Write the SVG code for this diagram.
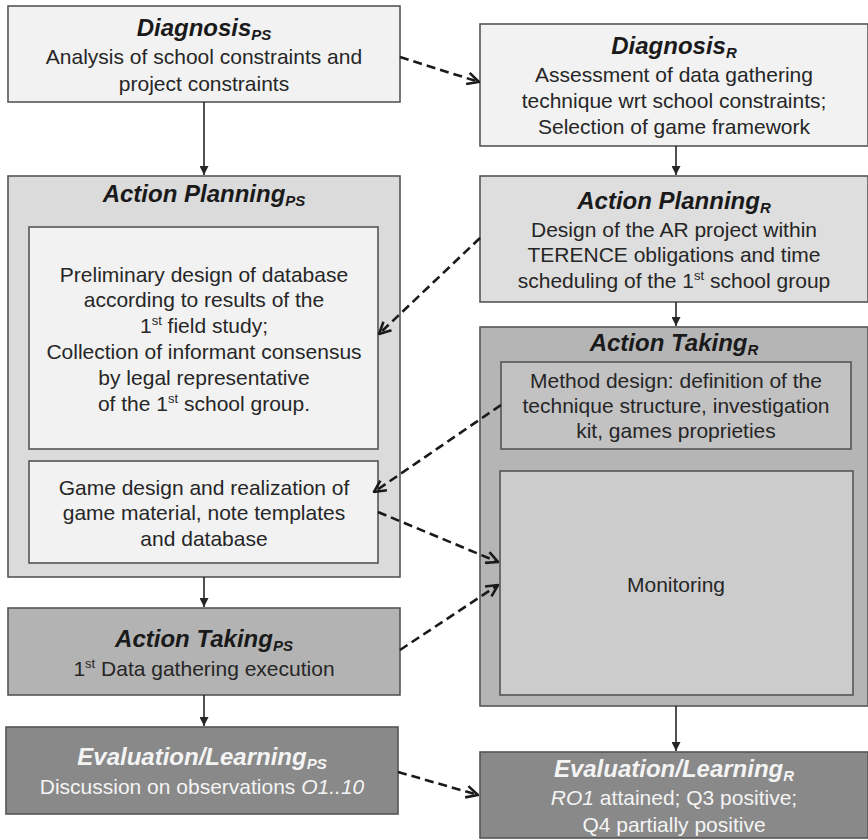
<svg xmlns="http://www.w3.org/2000/svg" width="868" height="840" viewBox="0 0 868 840">
<style>
  .b { stroke: #555555; stroke-width: 1.6; }
  text { font-family: "Liberation Sans", Arial, sans-serif; font-size: 21px; fill: #262626; text-anchor: middle; }
  .t { font-weight: bold; font-style: italic; font-size: 24px; fill: #1a1a1a; }
  .w { fill: #f4f4f4; }
  .sub { font-size: 15px; }
  .sup { font-size: 13px; }
  .solid { stroke: #262626; stroke-width: 1.6; fill: none; }
  .dash { stroke: #1a1a1a; stroke-width: 2.6; fill: none; stroke-dasharray: 9 5; }
</style>
<defs>
  <marker id="sa" viewBox="0 0 10 10" refX="10" refY="5" markerWidth="9" markerHeight="9" markerUnits="userSpaceOnUse" orient="auto">
    <path d="M0,0 L10,5 L0,10 z" fill="#262626"/>
  </marker>
  <marker id="da" viewBox="0 0 12 12" refX="11" refY="6" markerWidth="14" markerHeight="14" markerUnits="userSpaceOnUse" orient="auto">
    <path d="M1,1 L11,6 L1,11" fill="none" stroke="#1a1a1a" stroke-width="2.2"/>
  </marker>
</defs>
<rect width="868" height="840" fill="#ffffff"/>

<g id="diagnosis-ps">
  <rect class="b" x="8" y="6" width="392" height="96" fill="#f2f2f2"/>
  <text x="204" y="36" class="t">Diagnosis<tspan class="sub" dy="4">PS</tspan></text>
  <text x="204" y="64">Analysis of school constraints and</text>
  <text x="204" y="91">project constraints</text>
</g>

<g id="diagnosis-r">
  <rect class="b" x="480" y="24" width="388" height="122" fill="#f2f2f2"/>
  <text x="674" y="54" class="t">Diagnosis<tspan class="sub" dy="4">R</tspan></text>
  <text x="674" y="82">Assessment of data gathering</text>
  <text x="674" y="108">technique wrt school constraints;</text>
  <text x="674" y="134">Selection of game framework</text>
</g>

<g id="action-planning-ps">
  <rect class="b" x="8" y="176" width="392" height="401" fill="#dbdbdb"/>
  <text x="204" y="202" class="t">Action Planning<tspan class="sub" dy="4">PS</tspan></text>
</g>

<g id="ap-ps-preliminary">
  <rect class="b" x="29" y="227" width="349" height="222" fill="#f2f2f2"/>
  <text x="204" y="282">Preliminary design of database</text>
  <text x="204" y="307">according to results of the</text>
  <text x="204" y="333">1<tspan class="sup" dy="-8">st</tspan><tspan dy="8"> field study;</tspan></text>
  <text x="204" y="359">Collection of informant consensus</text>
  <text x="204" y="385">by legal representative</text>
  <text x="204" y="411">of the 1<tspan class="sup" dy="-8">st</tspan><tspan dy="8"> school group.</tspan></text>
</g>

<g id="ap-ps-game-design">
  <rect class="b" x="29" y="461" width="349" height="102" fill="#f2f2f2"/>
  <text x="204" y="495">Game design and realization of</text>
  <text x="204" y="520">game material, note templates</text>
  <text x="204" y="546">and database</text>
</g>

<g id="action-planning-r">
  <rect class="b" x="480" y="176" width="388" height="126" fill="#dedede"/>
  <text x="674" y="209" class="t">Action Planning<tspan class="sub" dy="4">R</tspan></text>
  <text x="674" y="237">Design of the AR project within</text>
  <text x="674" y="262">TERENCE obligations and time</text>
  <text x="674" y="288">scheduling of the 1<tspan class="sup" dy="-8">st</tspan><tspan dy="8"> school group</tspan></text>
</g>

<g id="action-taking-r">
  <rect class="b" x="480" y="327" width="388" height="379" fill="#b5b5b5"/>
  <text x="674" y="351" class="t">Action Taking<tspan class="sub" dy="4">R</tspan></text>
</g>

<g id="at-r-method">
  <rect class="b" x="501" y="362" width="350" height="87" fill="#c2c2c2"/>
  <text x="676" y="388">Method design: definition of the</text>
  <text x="676" y="413">technique structure, investigation</text>
  <text x="676" y="438">kit, games proprieties</text>
</g>

<g id="at-r-monitoring">
  <rect class="b" x="500" y="471" width="353" height="224" fill="#cccccc"/>
  <text x="676" y="592">Monitoring</text>
</g>

<g id="action-taking-ps">
  <rect class="b" x="8" y="608" width="392" height="87" fill="#b3b3b3"/>
  <text x="204" y="647" class="t">Action Taking<tspan class="sub" dy="4">PS</tspan></text>
  <text x="204" y="676">1<tspan class="sup" dy="-8">st</tspan><tspan dy="8"> Data gathering execution</tspan></text>
</g>

<g id="evaluation-ps">
  <rect class="b" x="6" y="727" width="392" height="87" fill="#898989"/>
  <text x="202" y="765" class="t w">Evaluation/Learning<tspan class="sub" dy="4">PS</tspan></text>
  <text x="202" y="794" class="w">Discussion on observations <tspan font-style="italic">O1..10</tspan></text>
</g>

<g id="evaluation-r">
  <rect class="b" x="480" y="752" width="388" height="86" fill="#898989"/>
  <text x="674" y="777" class="t w">Evaluation/Learning<tspan class="sub" dy="4">R</tspan></text>
  <text x="674" y="805" class="w"><tspan font-style="italic">RO1</tspan> attained; Q3 positive;</text>
  <text x="674" y="832" class="w">Q4 partially positive</text>
</g>

<g id="connectors">
  <line class="solid" x1="204" y1="102" x2="204" y2="175" marker-end="url(#sa)"/>
  <line class="solid" x1="676" y1="146" x2="676" y2="175" marker-end="url(#sa)"/>
  <line class="solid" x1="676" y1="302" x2="676" y2="326" marker-end="url(#sa)"/>
  <line class="solid" x1="204" y1="577" x2="204" y2="607" marker-end="url(#sa)"/>
  <line class="solid" x1="204" y1="695" x2="204" y2="726" marker-end="url(#sa)"/>
  <line class="solid" x1="676" y1="706" x2="676" y2="751" marker-end="url(#sa)"/>

  <line class="dash" x1="400" y1="57" x2="479" y2="82" marker-end="url(#da)"/>
  <line class="dash" x1="480" y1="238" x2="379" y2="334" marker-end="url(#da)"/>
  <line class="dash" x1="501" y1="405" x2="374" y2="492" marker-end="url(#da)"/>
  <line class="dash" x1="378" y1="512" x2="498" y2="562" marker-end="url(#da)"/>
  <line class="dash" x1="400" y1="650" x2="498" y2="585" marker-end="url(#da)"/>
  <line class="dash" x1="398" y1="772" x2="478" y2="795" marker-end="url(#da)"/>
</g>
</svg>
